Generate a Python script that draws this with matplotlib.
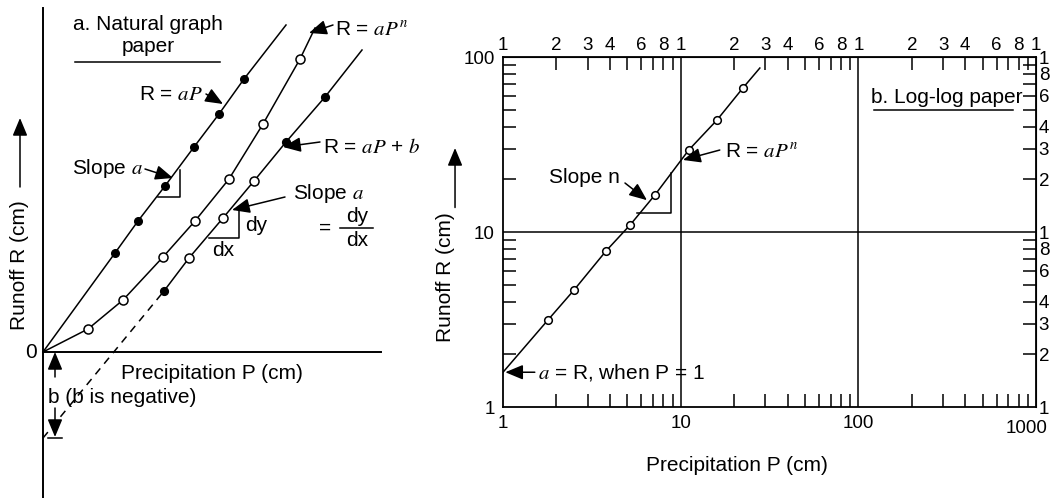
import matplotlib
matplotlib.use('Agg')
import matplotlib.pyplot as plt
from matplotlib.ticker import FixedLocator, NullLocator, FixedFormatter
from matplotlib.transforms import ScaledTranslation

plt.rcParams['font.family'] = ['Liberation Sans', 'DejaVu Sans']
plt.rcParams['mathtext.fontset'] = 'stix'

# ---- a. natural graph paper (schematic units) ----
lin_P = [0, 7.2, 9.5, 12.2, 15.1, 17.6, 20.1, 24.3]
lin_R = [0, 9.9, 13.1, 16.6, 20.5, 23.8, 27.3, 32.7]
pow_P = [0, 4.5, 8.0, 12.0, 15.2, 18.6, 22.0, 25.7, 27.2]
pow_R = [0, 2.3, 5.2, 9.5, 13.1, 17.3, 22.8, 29.3, 32.4]
off_P = [0, 12.1, 14.6, 18.0, 21.1, 24.3, 28.2, 31.9]
off_R = [-8.6, 6.1, 9.4, 13.4, 17.1, 21.0, 25.5, 30.2]
off_filled = [True, False, False, False, True, True]

# ---- b. log-log paper ----
log_P = [1, 1.79, 2.51, 3.80, 5.19, 7.17, 11.1, 16.0, 22.4, 27.9]
log_R = [1.58, 3.14, 4.66, 7.79, 10.96, 16.3, 29.4, 43.6, 66.5, 86.5]

x_major = [1, 10, 100, 1000]
top_ticks = [1, 2, 3, 4, 6, 8, 10, 20, 30, 40, 60, 80, 100, 200, 300, 400, 600, 800, 1000]
right_ticks = [1, 2, 3, 4, 6, 8, 10, 20, 30, 40, 60, 80, 100]

FS = 15
TFS = 13.5
LW = 1.1
ARW = '-|>,head_length=0.6,head_width=0.25'


def arrow(ax, tail, tip):
    ax.annotate('', xy=tip, xytext=tail,
                arrowprops=dict(arrowstyle=ARW, color='k', lw=LW, mutation_scale=18,
                                shrinkA=0, shrinkB=0))


fig = plt.figure(figsize=(10.54, 4.98), dpi=100)

# left panel
ax1 = fig.add_axes([0, 0, 440 / 1054, 1])
ax1.set_xlim(-4.3, 39.7)
ax1.set_ylim(-14.6, 35.2)
ax1.axis('off')

ax1.plot([0, 0], [-14.6, 34.4], color='k', lw=1.4)
ax1.plot([0, 33.8], [0, 0], color='k', lw=1.4)

ax1.plot(lin_P, lin_R, color='k', lw=LW)
ax1.plot(lin_P[1:-1], lin_R[1:-1], 'o', color='k', ms=5.5)

ax1.plot(pow_P, pow_R, color='k', lw=LW)
ax1.plot(pow_P[1:-1], pow_R[1:-1], 'o', mfc='white', mec='k', mew=LW, ms=6.5)

ax1.plot(off_P[:2], off_R[:2], color='k', lw=LW, ls=(0, (5, 4)))
ax1.plot(off_P[1:], off_R[1:], color='k', lw=LW)
for p, r, f in zip(off_P[1:-1], off_R[1:-1], off_filled):
    ax1.plot(p, r, 'o', mfc='k' if f else 'white', mec='k', mew=LW,
             ms=5.5 if f else 6.5, zorder=3)

ax1.plot([11.5, 13.7, 13.7], [15.5, 15.5, 18.2], color='k', lw=LW)
ax1.plot([16.6, 19.6, 19.6], [11.4, 11.4, 14.2], color='k', lw=LW)

ax1.text(10.5, 31.6, 'a. Natural graph\npaper', ha='center', va='center',
         fontsize=FS, linespacing=1.2)
ax1.plot([3.2, 17.7], [29.0, 29.0], color='k', lw=LW)

ax1.text(16.0, 25.7, r'R = $aP$', ha='right', va='center', fontsize=FS)
arrow(ax1, (16.3, 25.8), (18.0, 24.8))
ax1.text(29.2, 32.2, r'R = $aP^n$', ha='left', va='center', fontsize=FS)
arrow(ax1, (29.0, 32.7), (26.6, 31.9))
ax1.text(28.0, 20.5, r'R = $aP$ + $b$', ha='left', va='center', fontsize=FS)
arrow(ax1, (27.7, 21.0), (24.0, 20.5))
ax1.text(10.0, 18.4, r'Slope $a$', ha='right', va='center', fontsize=FS)
arrow(ax1, (10.2, 18.3), (13.0, 17.4))
ax1.text(25.0, 15.9, r'Slope $a$', ha='left', va='center', fontsize=FS)
arrow(ax1, (24.2, 15.5), (18.9, 14.2))
ax1.text(28.2, 12.4, '=', ha='center', va='center', fontsize=FS)
ax1.text(31.4, 13.6, 'dy', ha='center', va='center', fontsize=FS)
ax1.plot([29.7, 33.0], [12.4, 12.4], color='k', lw=LW)
ax1.text(31.4, 11.2, 'dx', ha='center', va='center', fontsize=FS)
ax1.text(20.2, 12.7, 'dy', ha='left', va='center', fontsize=FS)
ax1.text(18.0, 10.2, 'dx', ha='center', va='center', fontsize=FS)

ax1.text(-0.6, 0, '0', ha='right', va='center', fontsize=FS)
ax1.text(16.9, -2.1, 'Precipitation P (cm)', ha='center', va='center', fontsize=FS)
ax1.text(0.5, -4.5, 'b (b is negative)', ha='left', va='center', fontsize=FS)
arrow(ax1, (1.2, -2.5), (1.2, 0))
arrow(ax1, (1.2, -5.6), (1.2, -8.5))
ax1.plot([0.5, 1.9], [-8.55, -8.55], color='k', lw=LW)

ax1.text(-2.3, 8.7, 'Runoff R (cm)', rotation=90, ha='center', va='center', fontsize=FS)
arrow(ax1, (-2.3, 16.5), (-2.3, 23.4))

# right panel
ax2 = fig.add_axes([503 / 1054, 91 / 498, 533 / 1054, 350 / 498])
ax2.set_xscale('log')
ax2.set_yscale('log')
ax2.set_xlim(1, 1000)
ax2.set_ylim(1, 100)
for s in ax2.spines.values():
    s.set_linewidth(1.3)

ax2.axvline(10, color='k', lw=LW)
ax2.axvline(100, color='k', lw=LW)
ax2.axhline(10, color='k', lw=LW)

ax2.plot(log_P, log_R, color='k', lw=LW)
ax2.plot(log_P[1:-1], log_R[1:-1], 'o', mfc='white', mec='k', mew=LW, ms=5.5)
ax2.plot([5.68, 8.82, 8.82], [12.8, 12.8, 21.7], color='k', lw=LW)

ax2.xaxis.set_major_locator(FixedLocator(x_major))
ax2.xaxis.set_major_formatter(FixedFormatter([str(v) for v in x_major]))
ax2.yaxis.set_major_locator(FixedLocator([1, 10, 100]))
ax2.yaxis.set_major_formatter(FixedFormatter(['1', '10', '100']))
ax2.xaxis.set_minor_locator(FixedLocator([m * d for d in (1, 10, 100) for m in range(2, 10)]))
ax2.yaxis.set_minor_locator(FixedLocator([m * d for d in (1, 10) for m in range(2, 10)]))
ax2.xaxis.set_minor_formatter(FixedFormatter([]))
ax2.yaxis.set_minor_formatter(FixedFormatter([]))
ax2.tick_params(which='major', length=0, labelsize=TFS, pad=6)
ax2.tick_params(which='minor', direction='in', length=9.4, width=LW,
                top=True, right=True)

# nudge the last bottom label so it stays inside the picture
last = ax2.xaxis.get_major_ticks()[-1].label1
last.set_transform(last.get_transform() + ScaledTranslation(-7 / 72, -3 / 72, fig.dpi_scale_trans))

top = ax2.secondary_xaxis('top')
top.xaxis.set_major_locator(FixedLocator(top_ticks))
top.xaxis.set_major_formatter(FixedFormatter([str(v)[0] for v in top_ticks]))
top.xaxis.set_minor_locator(NullLocator())
top.tick_params(length=0, labelsize=TFS, pad=2)

right = ax2.secondary_yaxis('right')
right.yaxis.set_major_locator(FixedLocator(right_ticks))
right.yaxis.set_major_formatter(FixedFormatter([str(v)[0] for v in right_ticks]))
right.yaxis.set_minor_locator(NullLocator())
right.tick_params(length=0, labelsize=TFS, pad=2)

ax2.set_xlabel('Precipitation P (cm)', fontsize=FS)
ax2.xaxis.set_label_coords(0.439, -0.14)
ax2.set_ylabel('Runoff R (cm)', fontsize=FS)
ax2.yaxis.set_label_coords(-0.09, 0.37)
ax2.annotate('', xy=(-0.09, 0.74), xytext=(-0.09, 0.57), xycoords='axes fraction',
             textcoords='axes fraction', annotation_clip=False,
             arrowprops=dict(arrowstyle=ARW, color='k', lw=LW, mutation_scale=18,
                             shrinkA=0, shrinkB=0))

ax2.text(4.55, 20.6, 'Slope n', ha='right', va='center', fontsize=FS)
arrow(ax2, (4.86, 19.05), (6.46, 15.2))
ax2.text(17.8, 28.6, r'R = $aP^n$', ha='left', va='center', fontsize=FS)
arrow(ax2, (16.6, 29.4), (10.3, 25.8))
ax2.text(1.57, 1.58, r'$a$ = R, when P = 1', ha='left', va='center', fontsize=FS)
arrow(ax2, (1.51, 1.58), (1.03, 1.58))
ax2.text(118, 59, 'b. Log-log paper', ha='left', va='center', fontsize=FS)
ax2.plot([122, 741], [49.8, 49.8], color='k', lw=LW)

fig.savefig('out.png', dpi=100)
